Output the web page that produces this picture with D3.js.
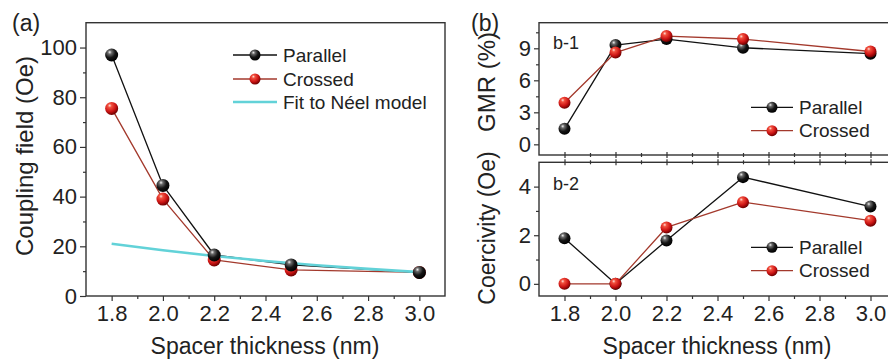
<!DOCTYPE html>
<html>
<head>
<meta charset="utf-8">
<script src="https://cdn.jsdelivr.net/npm/d3@7"></script>
<style>
  body { margin: 0; background: #fff; }
  svg { display: block; font-family: "Liberation Sans", Arial, sans-serif; }
</style>
</head>
<body>
<svg id="chart" width="888" height="363"></svg>
<script>
// spacer thickness (nm) shared by every panel
const thickness = [1.8, 2.0, 2.2, 2.5, 3.0];

// (a) coupling field (Oe)
const couplingParallel = [97, 44.5, 16.5, 12.5, 9.5];
const couplingCrossed = [75.5, 39, 14.5, 10.5, 9.5];
// Néel model fit
const neelX = [1.8, 2.0, 2.2, 2.4, 2.6, 2.8, 3.0];
const neelY = [21, 18.4, 16.1, 14.1, 12.4, 10.9, 9.6];

// (b-1) GMR (%)
const gmrParallel = [1.45, 9.3, 9.87, 9.05, 8.5];
const gmrCrossed = [3.9, 8.6, 10.15, 9.87, 8.7];

// (b-2) coercivity (Oe)
const coerParallel = [1.88, 0, 1.78, 4.39, 3.18];
const coerCrossed = [0, 0, 2.32, 3.36, 2.6];

// ticks
const xTicks = [1.8, 2.0, 2.2, 2.4, 2.6, 2.8, 3.0];
const xMinor = [1.9, 2.1, 2.3, 2.5, 2.7, 2.9];
const couplingTicks = [0, 20, 40, 60, 80, 100];
const couplingMinor = [10, 30, 50, 70, 90];
const gmrTicks = [0, 3, 6, 9];
const gmrMinor = [1.5, 4.5, 7.5, 10.5];
const coerTicks = [0, 2, 4];
const coerMinor = [1, 3];

const axisColor = '#333';
const textColor = '#222';
const parallelColor = '#111';
const crossedColor = '#a3392c';
const neelColor = '#62d2d8';

const svg = d3.select('#chart');

// sphere markers
const defs = svg.append('defs');
function ballGradient(id, stops) {
  const gr = defs.append('radialGradient')
    .attr('id', id)
    .attr('cx', '38%').attr('cy', '32%').attr('r', '68%')
    .attr('fx', '35%').attr('fy', '28%');
  stops.forEach(s => gr.append('stop').attr('offset', s[0]).attr('stop-color', s[1]));
}
ballGradient('ballBlack', [[0, '#f2f2f2'], [0.22, '#6a6a6a'], [0.6, '#151515'], [1, '#000']]);
ballGradient('ballRed', [[0, '#ffe0d8'], [0.22, '#f2503e'], [0.65, '#cc1414'], [1, '#6e0000']]);

function styleAxis(sel, fontSize) {
  sel.attr('font-family', null).attr('font-size', fontSize);
  sel.select('.domain').remove();
  sel.selectAll('line').attr('stroke', axisColor).attr('stroke-width', 1.2);
  sel.selectAll('text').attr('fill', textColor);
}

function crossTicks(sel, len) {
  sel.selectAll('.tick line').attr('y1', -len).attr('y2', len);
}

function drawBox(x0, y0, x1, y1) {
  svg.append('rect')
    .attr('x', x0).attr('y', y0)
    .attr('width', x1 - x0).attr('height', y1 - y0)
    .attr('fill', 'none')
    .attr('stroke', axisColor)
    .attr('stroke-width', 1.4);
}

function drawSeries(x, y, xs, ys, color) {
  const line = d3.line()
    .x((d, i) => x(xs[i]))
    .y(d => y(d));
  svg.append('path')
    .datum(ys)
    .attr('d', line)
    .attr('fill', 'none')
    .attr('stroke', color)
    .attr('stroke-width', 1.3)
    .attr('stroke-linejoin', 'round');
}

function drawBalls(x, y, xs, ys, grad, r) {
  svg.append('g').selectAll('circle')
    .data(ys)
    .join('circle')
      .attr('cx', (d, i) => x(xs[i]))
      .attr('cy', d => y(d))
      .attr('r', r)
      .attr('fill', 'url(#' + grad + ')');
}

function legendItem(x0, x1, y, label, color, grad, fontSize) {
  const g = svg.append('g');
  g.append('line')
    .attr('x1', x0).attr('x2', x1).attr('y1', y).attr('y2', y)
    .attr('stroke', color)
    .attr('stroke-width', grad ? 1.3 : 2.6);
  if (grad) {
    g.append('circle')
      .attr('cx', (x0 + x1) / 2).attr('cy', y).attr('r', 5.5)
      .attr('fill', 'url(#' + grad + ')');
  }
  g.append('text')
    .attr('x', x1 + 6).attr('y', y).attr('dy', '0.35em')
    .attr('font-size', fontSize)
    .attr('fill', textColor)
    .text(label);
}

function plainText(x, y, str, size, anchor, rotate) {
  const t = svg.append('text')
    .attr('font-size', size)
    .attr('fill', textColor)
    .attr('text-anchor', anchor || 'start')
    .text(str);
  if (rotate) {
    t.attr('transform', 'translate(' + x + ',' + y + ') rotate(-90)');
  } else {
    t.attr('x', x).attr('y', y);
  }
  return t;
}

const tickFont = 22;
const titleFont = 23;
const legendFont = 19;
const intFmt = d3.format('d');
const xFmt = d3.format('.1f');

// ---------- panel (a) ----------
const ax = d3.scaleLinear().domain([1.7, 3.1]).range([86, 445]);
const ay = d3.scaleLinear().domain([0, 110]).range([296, 22.7]);

svg.append('g')
  .attr('transform', 'translate(0,296)')
  .call(d3.axisBottom(ax).tickValues(xMinor).tickSize(3).tickFormat(''))
  .call(styleAxis, tickFont);
svg.append('g')
  .attr('transform', 'translate(0,296)')
  .call(d3.axisBottom(ax).tickValues(xTicks).tickSize(5).tickPadding(4).tickFormat(xFmt))
  .call(styleAxis, tickFont);
svg.append('g')
  .attr('transform', 'translate(86,0)')
  .call(d3.axisLeft(ay).tickValues(couplingMinor).tickSize(3).tickFormat(''))
  .call(styleAxis, tickFont);
svg.append('g')
  .attr('transform', 'translate(86,0)')
  .call(d3.axisLeft(ay).tickValues(couplingTicks).tickSize(6).tickPadding(3).tickFormat(intFmt))
  .call(styleAxis, tickFont);
drawBox(86, 22.7, 445, 296);

drawSeries(ax, ay, thickness, couplingCrossed, crossedColor);
drawSeries(ax, ay, thickness, couplingParallel, parallelColor);
svg.append('path')
  .datum(neelY)
  .attr('d', d3.line().x((d, i) => ax(neelX[i])).y(d => ay(d)))
  .attr('fill', 'none')
  .attr('stroke', neelColor)
  .attr('stroke-width', 2.6);
drawBalls(ax, ay, thickness, couplingCrossed, 'ballRed', 6.5);
drawBalls(ax, ay, thickness, couplingParallel, 'ballBlack', 6.5);

legendItem(233, 277, 55, 'Parallel', parallelColor, 'ballBlack', legendFont);
legendItem(233, 277, 79, 'Crossed', crossedColor, 'ballRed', legendFont);
legendItem(233, 277, 102, 'Fit to Néel model', neelColor, null, legendFont);

plainText(12, 31, '(a)', 23);
plainText(33, 156, 'Coupling field (Oe)', 24, 'middle', true);
plainText(265, 354, 'Spacer thickness (nm)', titleFont, 'middle');

// ---------- panel (b) ----------
const bx = d3.scaleLinear().domain([1.7, 3.1]).range([539, 896]);
const by1 = d3.scaleLinear().domain([-1, 11.4]).range([155, 22.7]);
const by2 = d3.scaleLinear().domain([-0.5, 5]).range([296, 162.3]);

// b-1 axes
svg.append('g')
  .attr('transform', 'translate(0,155)')
  .call(d3.axisBottom(bx).tickValues(xMinor).tickSize(2).tickFormat(''))
  .call(styleAxis, tickFont)
  .call(crossTicks, 2);
svg.append('g')
  .attr('transform', 'translate(0,155)')
  .call(d3.axisBottom(bx).tickValues(xTicks).tickSize(3).tickFormat(''))
  .call(styleAxis, tickFont)
  .call(crossTicks, 3);
svg.append('g')
  .attr('transform', 'translate(539,0)')
  .call(d3.axisLeft(by1).tickValues(gmrMinor).tickSize(3).tickFormat(''))
  .call(styleAxis, tickFont);
svg.append('g')
  .attr('transform', 'translate(539,0)')
  .call(d3.axisLeft(by1).tickValues(gmrTicks).tickSize(5).tickPadding(3).tickFormat(intFmt))
  .call(styleAxis, tickFont);
drawBox(539, 22.7, 896, 155);

// b-2 axes
svg.append('g')
  .attr('transform', 'translate(0,162.3)')
  .call(d3.axisBottom(bx).tickValues(xMinor).tickSize(2).tickFormat(''))
  .call(styleAxis, tickFont)
  .call(crossTicks, 2);
svg.append('g')
  .attr('transform', 'translate(0,162.3)')
  .call(d3.axisBottom(bx).tickValues(xTicks).tickSize(3).tickFormat(''))
  .call(styleAxis, tickFont)
  .call(crossTicks, 3);
svg.append('g')
  .attr('transform', 'translate(0,296)')
  .call(d3.axisBottom(bx).tickValues(xMinor).tickSize(3).tickFormat(''))
  .call(styleAxis, tickFont);
svg.append('g')
  .attr('transform', 'translate(0,296)')
  .call(d3.axisBottom(bx).tickValues(xTicks).tickSize(5).tickPadding(4).tickFormat(xFmt))
  .call(styleAxis, tickFont);
svg.append('g')
  .attr('transform', 'translate(539,0)')
  .call(d3.axisLeft(by2).tickValues(coerMinor).tickSize(3).tickFormat(''))
  .call(styleAxis, tickFont);
svg.append('g')
  .attr('transform', 'translate(539,0)')
  .call(d3.axisLeft(by2).tickValues(coerTicks).tickSize(5).tickPadding(3).tickFormat(intFmt))
  .call(styleAxis, tickFont);
drawBox(539, 162.3, 896, 296);

// b-1 data
drawSeries(bx, by1, thickness, gmrParallel, parallelColor);
drawSeries(bx, by1, thickness, gmrCrossed, crossedColor);
drawBalls(bx, by1, thickness, gmrParallel, 'ballBlack', 6);
drawBalls(bx, by1, thickness, gmrCrossed, 'ballRed', 6);

// b-2 data
drawSeries(bx, by2, thickness, coerParallel, parallelColor);
drawSeries(bx, by2, thickness, coerCrossed, crossedColor);
drawBalls(bx, by2, thickness, coerParallel, 'ballBlack', 6);
drawBalls(bx, by2, thickness, coerCrossed, 'ballRed', 6);

legendItem(751, 793, 107.3, 'Parallel', parallelColor, 'ballBlack', legendFont);
legendItem(751, 793, 130.7, 'Crossed', crossedColor, 'ballRed', legendFont);
legendItem(751, 793, 247.3, 'Parallel', parallelColor, 'ballBlack', legendFont);
legendItem(751, 793, 270.7, 'Crossed', crossedColor, 'ballRed', legendFont);

plainText(553, 49, 'b-1', 18);
plainText(553, 190, 'b-2', 18);
plainText(471, 31, '(b)', 23);
plainText(495, 82, 'GMR (%)', 24, 'middle', true);
plainText(495, 228, 'Coercivity (Oe)', titleFont, 'middle', true);
plainText(717, 354, 'Spacer thickness (nm)', titleFont, 'middle');
</script>
</body>
</html>
